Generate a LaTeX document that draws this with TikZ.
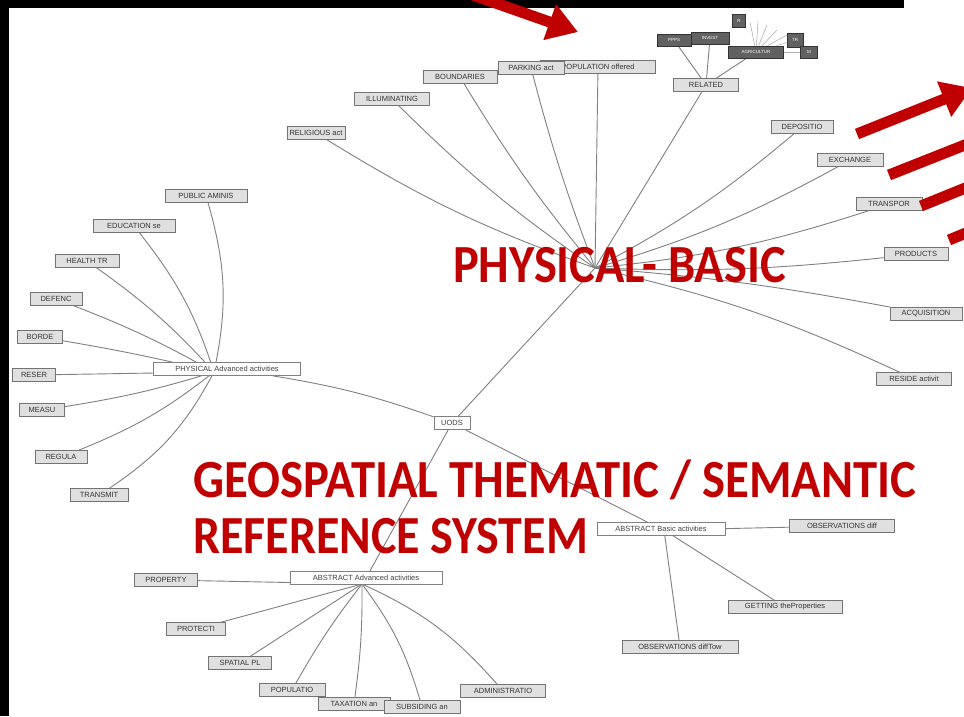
\documentclass[tikz,border=0pt]{standalone}
\usepackage{fontspec}
\setmainfont{Liberation Sans}
\newfontfamily\headfont{Carlito}
\usetikzlibrary{arrows.meta,backgrounds,calc}
\definecolor{slidered}{HTML}{C00000}
\definecolor{edgegray}{HTML}{808080}
\tikzset{
  lf/.style={draw=black!55, fill=black!12, line width=0.7pt, inner sep=1pt,
    minimum height=13pt, font=\fontsize{7.5}{7.5}\selectfont, text=black!80},
  hb/.style={draw=black!50, fill=white, line width=0.7pt, inner sep=1pt,
    minimum height=13pt, font=\fontsize{7.5}{7.5}\selectfont, text=black!75},
  dk/.style={draw=black!80, fill=black!62, line width=0.7pt, inner sep=0.5pt,
    minimum height=12pt, font=\fontsize{4.5}{4.5}\selectfont, text=white},
  link/.style={draw=edgegray, line width=0.9pt},
  fanline/.style={draw=black!30, line width=0.6pt},
  bigarrow/.style={draw=slidered, line width=11pt,
    -{Triangle[width=36pt,length=30pt]}},
  title/.style={text=slidered, anchor=base west, inner sep=0pt,
    font=\headfont\bfseries\fontsize{47.5}{50}\selectfont},
}
\begin{document}
\begin{tikzpicture}[x=1pt,y=-1pt]
\clip (0,0) rectangle (964,716);

% ---- hub boxes
\node[hb, minimum width=147pt] (pa) at (227,369) {PHYSICAL Advanced activities};
\node[hb, minimum width=36pt] (uods) at (452,423) {UODS};
\node[hb, minimum width=128pt] (ab) at (661,529) {ABSTRACT Basic activities};
\node[hb, minimum width=152pt] (aa) at (366,578) {ABSTRACT Advanced activities};
\coordinate (pb) at (595,268);
\coordinate (pah) at (214,372);
\coordinate (aah) at (362,584);
\coordinate (abh) at (664,530);

% ---- physical advanced leaves
\node[lf, minimum width=82pt] (pub) at (206,196) {PUBLIC AMINIS};
\node[lf, minimum width=82pt] (edu) at (134,226) {EDUCATION se};
\node[lf, minimum width=64pt] (hea) at (87,261) {HEALTH TR};
\node[lf, minimum width=52pt] (def) at (56,299) {DEFENC};
\node[lf, minimum width=45pt] (bor) at (40,337) {BORDE};
\node[lf, minimum width=43pt] (res) at (34,375) {RESER};
\node[lf, minimum width=45pt] (mea) at (42,410) {MEASU};
\node[lf, minimum width=52pt] (reg) at (61,457) {REGULA};
\node[lf, minimum width=58pt] (tra) at (99,495) {TRANSMIT};

% ---- physical basic leaves
\node[lf, minimum width=58pt] (rel) at (316,133) {RELIGIOUS act};
\node[lf, minimum width=75pt] (ill) at (392,99) {ILLUMINATING};
\node[lf, minimum width=74pt] (bou) at (460,77) {BOUNDARIES};
\node[lf, minimum width=115pt] (pop) at (598,67) {POPULATION offered};
\node[lf, minimum width=66pt] (par) at (531,68) {PARKING act};
\node[lf, minimum width=65pt] (rlt) at (706,85) {RELATED};
\node[lf, minimum width=62pt] (dep) at (802,127) {DEPOSITIO};
\node[lf, minimum width=66pt] (exc) at (850,160) {EXCHANGE};
\node[lf, minimum width=66pt] (trp) at (889,204) {TRANSPOR};
\node[lf, minimum width=64pt] (pro) at (916,254) {PRODUCTS};
\node[lf, minimum width=72pt] (acq) at (926,314) {ACQUISITION};
\node[lf, minimum width=75pt] (rsd) at (914,379) {RESIDE activit};

% ---- cluster above RELATED
\node[dk, minimum width=34pt] (k1) at (674,40) {PPPS};
\node[dk, minimum width=38pt] (k2) at (710,38) {INVEST};
\node[dk, minimum width=13pt, minimum height=13pt] (k3) at (739,21) {R};
\node[dk, minimum width=55pt] (k4) at (756,52) {AGRICULTUR};
\node[dk, minimum width=16pt, minimum height=14pt] (k5) at (795,40) {TR};
\node[dk, minimum width=17pt] (k6) at (809,52) {M};
\coordinate (f1) at (750,22);
\coordinate (f2) at (758,21);
\coordinate (f3) at (767,25);
\coordinate (f4) at (777,30);
\coordinate (f5) at (787,35);

% ---- abstract basic leaves
\node[lf, minimum width=105pt] (ob1) at (842,526) {OBSERVATIONS diff};
\node[lf, minimum width=114pt] (get) at (785,607) {GETTING theProperties};
\node[lf, minimum width=116pt] (ob2) at (680,647) {OBSERVATIONS diffTow};

% ---- abstract advanced leaves
\node[lf, minimum width=63pt] (prp) at (166,580) {PROPERTY};
\node[lf, minimum width=59pt] (prt) at (196,629) {PROTECTI};
\node[lf, minimum width=63pt] (spa) at (240,663) {SPATIAL PL};
\node[lf, minimum width=66pt] (ppl) at (292,690) {POPULATIO};
\node[lf, minimum width=72pt] (tax) at (354,704) {TAXATION an};
\node[lf, minimum width=76pt] (sub) at (422,707) {SUBSIDING an};
\node[lf, minimum width=85pt] (adm) at (503,691) {ADMINISTRATIO};

\begin{pgfonlayer}{background}
  \fill[white] (0,0) rectangle (964,716);
  % central links
  \draw[link] (pa) to[bend left=5] (uods);
  \draw[link] (uods) -- (pb);
  \draw[link] (uods) -- (ab);
  \draw[link] (uods) -- (aa);
  % physical advanced fan
  \draw[link] (pah) to[bend right=14] (pub);
  \draw[link] (pah) to[bend right=10] (edu);
  \draw[link] (pah) to[bend right=6] (hea);
  \draw[link] (pah) to[bend right=4] (def);
  \draw[link] (pah) to[bend right=2] (bor);
  \draw[link] (pah) -- (res);
  \draw[link] (pah) to[bend left=4] (mea);
  \draw[link] (pah) to[bend left=8] (reg);
  \draw[link] (pah) to[bend left=14] (tra);
  % physical basic fan
  \draw[link] (pb) to[bend left=6] (rel);
  \draw[link] (pb) to[bend left=5] (ill);
  \draw[link] (pb) to[bend left=4] (bou);
  \draw[link] (pb) to[bend left=3] (par);
  \draw[link] (pb) -- (pop);
  \draw[link] (pb) -- (rlt);
  \draw[link] (pb) to[bend right=6] (dep);
  \draw[link] (pb) to[bend right=6] (exc);
  \draw[link] (pb) to[bend right=6] (trp);
  \draw[link] (pb) to[bend right=4] (pro);
  \draw[link] (pb) to[bend left=3] (acq);
  \draw[link] (pb) to[bend left=6] (rsd);
  % cluster links
  \draw[link] (rlt) -- (k1);
  \draw[link] (rlt) -- (k2);
  \draw[link] (rlt) -- (k4);
  \draw[fanline] (k4) -- (f1);
  \draw[fanline] (k4) -- (f2);
  \draw[fanline] (k4) -- (f3);
  \draw[fanline] (k4) -- (f4);
  \draw[fanline] (k4) -- (f5);
  \draw[fanline] (k4) -- (k5);
  \draw[fanline] (k4) -- (k6);
  % abstract basic fan
  \draw[link] (abh) -- (ob1);
  \draw[link] (abh) -- (get);
  \draw[link] (abh) -- (ob2);
  % abstract advanced fan
  \draw[link] (aah) -- (prp);
  \draw[link] (aah) -- (prt);
  \draw[link] (aah) -- (spa);
  \draw[link] (aah) to[bend right=4] (ppl);
  \draw[link] (aah) to[bend left=4] (tax);
  \draw[link] (aah) to[bend left=10] (sub);
  \draw[link] (aah) to[bend left=12] (adm);
\end{pgfonlayer}

% frame bars
\fill[black] (0,0) rectangle (904,8);
\fill[black] (0,0) rectangle (9,716);

% ---- headings
\node[title] (hpb) at (453,282) {\scalebox{1.02}[1.13]{PHYSICAL- BASIC}};
\node[title] (hg1) at (193,497) {\scalebox{1.025}[1.13]{GEOSPATIAL THEMATIC / SEMANTIC}};
\node[title] (hg2) at (193,553) {\scalebox{1.01}[1.13]{REFERENCE SYSTEM}};

% ---- red pointers
\coordinate (a0s) at (470,-6);
\coordinate (a0e) at (578,32);
\draw[bigarrow] (a0s) -- (a0e);
\coordinate (a1s) at (857,134);
\coordinate (a1e) at (972,88);
\draw[bigarrow] (a1s) -- (a1e);
\coordinate (a2s) at (889,175);
\coordinate (a2e) at (990,135);
\draw[slidered, line width=11pt] (a2s) -- (a2e);
\coordinate (a3s) at (921,206);
\coordinate (a3e) at (990,178);
\draw[slidered, line width=11pt] (a3s) -- (a3e);
\coordinate (a4s) at (949,240);
\coordinate (a4e) at (990,223);
\draw[slidered, line width=11pt] (a4s) -- (a4e);
\end{tikzpicture}
\end{document}
